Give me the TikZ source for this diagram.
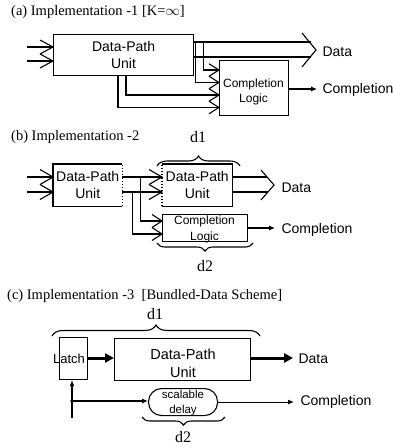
\documentclass[tikz,border=0pt]{standalone}
\usepackage{fontspec}
\setmainfont{Liberation Serif}
\setsansfont{Liberation Sans}
\usetikzlibrary{arrows.meta,decorations.pathreplacing,calc}

% open chevron with its tip at #1, reaching back #2 and spreading #3 each way
\newcommand{\chv}[3]{\draw[wire,line join=miter] ($#1+(-#2,-#3)$) -- #1 -- ($#1+(-#2,#3)$);}

\begin{document}
\begin{tikzpicture}[x=1pt,y=-1pt,
  wire/.style={line width=1.1pt},
  box/.style={draw,line width=1.1pt,inner sep=0pt,anchor=north west},
  plain/.style={inner sep=0pt,anchor=north west},
  sf/.style={font=\sffamily\fontsize{14}{17}\selectfont},
  sfs/.style={font=\sffamily\fontsize{12}{15.5}\selectfont},
  sfx/.style={font=\sffamily\fontsize{11.5}{15}\selectfont},
  ttl/.style={font=\fontsize{14.5}{17}\selectfont,anchor=west,inner sep=0pt},
  dl/.style={font=\fontsize{16}{18}\selectfont,inner sep=0pt},
  tip/.style={-{Latex[length=6pt,width=5pt]}},
  thk/.style={line width=3pt,-{Triangle[length=9pt,width=9pt]}},
  brc/.style={decorate,decoration={brace,amplitude=#1},line width=1.1pt},
  brc/.default=10pt
]
\useasboundingbox (0,0) rectangle (393,448);

% ---------------- (a) ----------------
\node[ttl] (tA) at (11,12) {(a) Implementation -1 [K=$\infty$]};
\node[box,minimum width=140pt,minimum height=41pt,sf,align=center] (dpuA) at (53,34) {Data-Path\\Unit};
\node[box,minimum width=69pt,minimum height=55pt] (clA) at (219,60) {};
\node[sfs,align=center] (clAt) at (253.5,92) {Completion\\Logic};

% inputs
\coordinate (inA1) at (27,47);
\coordinate (inA2) at (27,61);
\coordinate (eA1) at (inA1 -| dpuA.west);
\coordinate (eA2) at (inA2 -| dpuA.west);
\draw[wire] (inA1) -- (eA1);
\draw[wire] (inA2) -- (eA2);
\chv{(eA1)}{13}{7}
\chv{(eA2)}{13}{7}

% output bus
\coordinate (dA) at (316,50);
\draw[wire] ($(dpuA.north east)+(0,8)$) -- ++(117,0);
\draw[wire] ($(dpuA.north east)+(0,23)$) -- ++(117,0);
\chv{(dA)}{14}{17}
\node[sf,anchor=west] (dataA) at (319,52) {Data};

% taps into completion logic
\coordinate (cA1) at ($(clA.north west)+(0,10)$);
\coordinate (cA2) at ($(clA.north west)+(0,22.5)$);
\coordinate (cA3) at ($(clA.north west)+(0,35)$);
\coordinate (cA4) at ($(clA.north west)+(0,47.5)$);
\draw[wire] ($(dpuA.north east)+(9,8)$) |- (cA1);
\draw[wire] ($(dpuA.north east)+(1,8)$) |- (cA2);
\draw[wire] ($(dpuA.south west)+(73,0)$) |- (cA3);
\draw[wire] ($(dpuA.south west)+(65,0)$) |- (cA4);
\chv{(cA1)}{10}{6.25}
\chv{(cA2)}{10}{6.25}
\chv{(cA3)}{10}{6.25}
\chv{(cA4)}{10}{6.25}

\draw[wire,tip] ($(clA.north east)+(0,29)$) -- ++(28,0);
\node[sf,anchor=west] (compA) at (319,90) {Completion};

% ---------------- (b) ----------------
\node[ttl] (tB) at (11,137) {(b) Implementation -2};
\node[dl] (d1B) at (198,137) {d1};
\draw[brc] (157,166) -- (240,166);

\node[plain,minimum width=69pt,minimum height=42pt,sf,align=center] (dpuB1) at (53,164) {Data-Path\\Unit};
\draw[line width=1.1pt] (dpuB1.north east) -- (dpuB1.north west) -- (dpuB1.south west) -- (dpuB1.south east);
\draw[line width=1.1pt,dotted] (dpuB1.south east) -- (dpuB1.north east);

\node[plain,minimum width=70pt,minimum height=42pt,sf,align=center] (dpuB2) at (162,164) {Data-Path\\Unit};
\draw[line width=1.1pt] (dpuB2.north west) -- (dpuB2.north east) -- (dpuB2.south east) -- (dpuB2.south west);
\draw[line width=1.1pt,dotted] (dpuB2.south west) -- (dpuB2.north west);

\node[box,minimum width=85pt,minimum height=27pt] (clB) at (162,214) {};
\node[sfs,align=center] (clBt) at (204.5,229.5) {Completion\\Logic};

% inputs
\coordinate (inB1) at (27,177);
\coordinate (inB2) at (27,192);
\coordinate (eB1) at (inB1 -| dpuB1.west);
\coordinate (eB2) at (inB2 -| dpuB1.west);
\draw[wire] (inB1) -- (eB1);
\draw[wire] (inB2) -- (eB2);
\chv{(eB1)}{13}{7.5}
\chv{(eB2)}{13}{7.5}

% first unit to second unit
\coordinate (fB1) at ($(dpuB2.north west)+(0,13)$);
\coordinate (fB2) at ($(dpuB2.north west)+(0,28)$);
\draw[wire] ($(dpuB1.north east)+(0,13)$) -- (fB1);
\draw[wire] ($(dpuB1.north east)+(0,28)$) -- (fB2);
\chv{(fB1)}{13}{7.5}
\chv{(fB2)}{13}{7.5}

% taps into completion logic
\coordinate (cB1) at ($(clB.north west)+(0,7)$);
\coordinate (cB2) at ($(clB.north west)+(0,20)$);
\draw[wire] ($(dpuB1.north east)+(18,13)$) |- (cB1);
\draw[wire] ($(dpuB1.north east)+(10,28)$) |- (cB2);
\chv{(cB1)}{10}{6.5}
\chv{(cB2)}{10}{6.5}

% output bus
\coordinate (dB) at (274,185);
\draw[wire] ($(dpuB2.north east)+(0,13)$) -- ++(35,0);
\draw[wire] ($(dpuB2.north east)+(0,28)$) -- ++(36,0);
\chv{(dB)}{13}{15}
\node[sf,anchor=west] (dataB) at (278,188) {Data};

\draw[wire,tip] ($(clB.north east)+(0,14)$) -- ++(27,0);
\node[sf,anchor=west] (compB) at (278,230) {Completion};

\draw[brc=8pt] (253,243) -- (157,243);
\node[dl] (d2B) at (205,266) {d2};

% ---------------- (c) ----------------
\node[ttl] (tC) at (7,296) {(c) Implementation -3\ \ [Bundled-Data Scheme]};
\node[dl] (d1C) at (155,314) {d1};
\draw[brc=11pt] (52,336) -- (260,336);

\node[box,minimum width=28pt,minimum height=42pt] (lat) at (59,337) {};
\node[font=\sffamily\fontsize{13}{15}\selectfont,inner sep=0pt] (latT) at (69,359) {Latch};

\node[box,minimum width=136pt,minimum height=42pt] (dpuC) at (114,338) {};
\node[font=\sffamily\fontsize{14.5}{18}\selectfont,align=center] (dpuCt) at (183,363) {Data-Path\\Unit};

\draw[thk] ($(lat.north east)+(0,21)$) -- ($(dpuC.north west)+(0,20)$);
\draw[thk] ($(dpuC.north east)+(0,20)$) -- ++(42,0);
\node[sf,anchor=west] (dataC) at (295,359) {Data};

\coordinate (clk) at (72,418);
\coordinate (dot) at (72,401);
\draw[wire,tip] (clk) -- (clk |- lat.south);
\fill (dot) circle (1.8pt);

\node[draw,line width=1.1pt,rounded corners=13pt,minimum width=69pt,minimum height=27pt,inner sep=0pt,anchor=north west] (dly) at (148,388) {};
\node[sfx,align=center] (dlyt) at (183,403.5) {scalable\\delay};
\draw[wire,tip] (dot) -- (dot -| dly.west);
\draw[wire,tip] (dly.east) -- ++(76,0);
\node[sf,anchor=west] (compC) at (297,402) {Completion};

\draw[brc=8pt] (225,417) -- (142,417);
\node[dl] (d2C) at (183,437) {d2};
\end{tikzpicture}
\end{document}
